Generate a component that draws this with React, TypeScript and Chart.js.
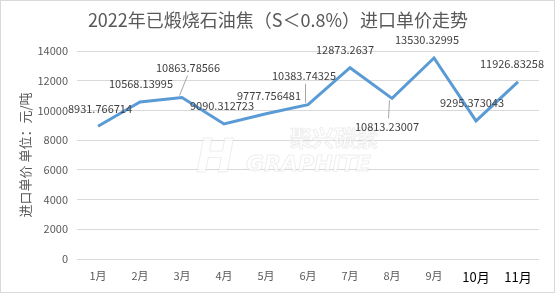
import React, { useEffect, useRef } from "react";
import { Chart, registerables } from "chart.js";

Chart.register(...registerables);

const titleText = "2022年已煅烧石油焦（S＜0.8%）进口单价走势";
const yAxisTitle = "进口单价 单位：元/吨";
const months = ["1月", "2月", "3月", "4月", "5月", "6月", "7月", "8月", "9月", "10月", "11月"];
const prices = [
  8931.766714, 10568.13995, 10863.78566, 9090.312723, 9777.756481, 10383.74325,
  12873.2637, 10813.23007, 13530.32995, 9295.373043, 11926.83258,
];
const priceLabels = [
  "8931.766714", "10568.13995", "10863.78566", "9090.312723", "9777.756481", "10383.74325",
  "12873.2637", "10813.23007", "13530.32995", "9295.373043", "11926.83258",
];
const yMin = 0;
const yMax = 14000;
const yStep = 2000;

// label placement (offset of label centre from its point), leader flag
const labelPlacement: { dx: number; dy: number; leader?: boolean }[] = [
  { dx: 2, dy: -17 },
  { dx: 1, dy: -18 },
  { dx: 6, dy: -30, leader: true },
  { dx: -2, dy: -18 },
  { dx: 3, dy: -18 },
  { dx: -4, dy: -29, leader: true },
  { dx: -5, dy: -18 },
  { dx: -5, dy: 28, leader: true },
  { dx: -7, dy: -18 },
  { dx: -4, dy: -18 },
  { dx: -6, dy: -18 },
];

const FONT = "'Noto Sans CJK SC', 'Noto Sans', sans-serif";

const decorPlugin = {
  id: "decor",
  beforeDraw(chart: any) {
    const { ctx, width, height } = chart;
    ctx.save();
    ctx.fillStyle = "#ffffff";
    ctx.fillRect(0, 0, width, height);
    ctx.strokeStyle = "#d9d9d9";
    ctx.lineWidth = 1;
    ctx.strokeRect(0.5, 0.5, width - 1, height - 1);
    // title
    ctx.fillStyle = "#595959";
    ctx.font = `18px ${FONT}`;
    ctx.textAlign = "center";
    ctx.textBaseline = "middle";
    ctx.fillText(titleText, 278, 20);
    // y axis title
    ctx.translate(25, 155);
    ctx.rotate(-Math.PI / 2);
    ctx.font = `13px ${FONT}`;
    ctx.fillText(yAxisTitle, 0, 0);
    ctx.restore();
  },
  beforeDatasetsDraw(chart: any) {
    const { ctx } = chart;
    ctx.save();
    ctx.strokeStyle = "rgba(200,200,200,0.3)";
    ctx.fillStyle = "rgba(255,255,255,0.7)";
    ctx.lineWidth = 1;
    ctx.textAlign = "left";
    ctx.textBaseline = "alphabetic";
    ctx.font = `bold 22px ${FONT}`;
    ctx.fillText("聚兴碳素", 290, 146);
    ctx.strokeText("聚兴碳素", 290, 146);
    ctx.font = `italic bold 22px 'DejaVu Sans', sans-serif`;
    ctx.fillText("GRAPHITE", 246, 171);
    ctx.strokeText("GRAPHITE", 246, 171);
    ctx.font = `italic bold 46px 'DejaVu Sans', sans-serif`;
    ctx.fillText("H", 196, 172);
    ctx.strokeText("H", 196, 172);
    ctx.restore();
  },
  afterDatasetsDraw(chart: any) {
    const { ctx } = chart;
    const meta = chart.getDatasetMeta(0);
    ctx.save();
    ctx.font = `11px ${FONT}`;
    ctx.textAlign = "center";
    ctx.textBaseline = "middle";
    meta.data.forEach((pt: any, i: number) => {
      const p = labelPlacement[i];
      const lx = pt.x + p.dx;
      const ly = pt.y + p.dy;
      if (p.leader) {
        ctx.strokeStyle = "#a6a6a6";
        ctx.lineWidth = 1;
        ctx.beginPath();
        const endY = p.dy < 0 ? ly + 8 : ly - 8;
        ctx.moveTo(Math.round(pt.x) - 2.5, pt.y + (p.dy < 0 ? -2 : 2));
        ctx.lineTo(Math.round(lx) - 0.5 + (p.dx > 0 ? 0 : 2), endY);
        ctx.stroke();
      }
      ctx.fillStyle = "#404040";
      ctx.fillText(priceLabels[i], lx, ly);
    });
    ctx.restore();
  },
};

export default function App() {
  const ref = useRef<HTMLCanvasElement | null>(null);
  useEffect(() => {
    document.body.style.margin = "0";
    const canvas = ref.current!;
    const chart = new Chart(canvas, {
      type: "line",
      data: {
        labels: months,
        datasets: [
          {
            data: prices,
            borderColor: "#5B9BD5",
            borderWidth: 3,
            pointRadius: 0,
            tension: 0,
            fill: false,
          },
        ],
      },
      options: {
        responsive: false,
        animation: false,
        devicePixelRatio: 1,
        layout: { padding: { top: 51, right: 16, bottom: 0, left: 0 } },
        plugins: { legend: { display: false }, title: { display: false }, tooltip: { enabled: false } },
        scales: {
          x: {
            offset: true,
            grid: { display: false, drawTicks: false },
            border: { display: false },
            ticks: {
              padding: 10,
              autoSkip: false,
              maxRotation: 0,
              color: (c: any) => (c.index >= 9 ? "#000000" : "#595959"),
              font: (c: any) => ({ family: FONT, size: c.index >= 9 ? 13 : 11 }),
            },
            afterFit(scale: any) {
              scale.height = 34;
            },
          },
          y: {
            min: yMin,
            max: yMax,
            ticks: {
              stepSize: yStep,
              padding: 9,
              color: "#595959",
              font: { family: FONT, size: 11 },
              callback: (v: any) => String(v),
            },
            grid: { color: "#d9d9d9", drawTicks: false, lineWidth: 1 },
            border: { display: false },
            afterFit(scale: any) {
              scale.width = 77;
            },
          },
        },
      },
      plugins: [decorPlugin],
    } as any);
    return () => chart.destroy();
  }, []);
  return (
    <div style={{ position: "absolute", left: 0, top: 0, width: 555, height: 293 }}>
      <canvas ref={ref} width={555} height={293} style={{ width: 555, height: 293 }} />
    </div>
  );
}
